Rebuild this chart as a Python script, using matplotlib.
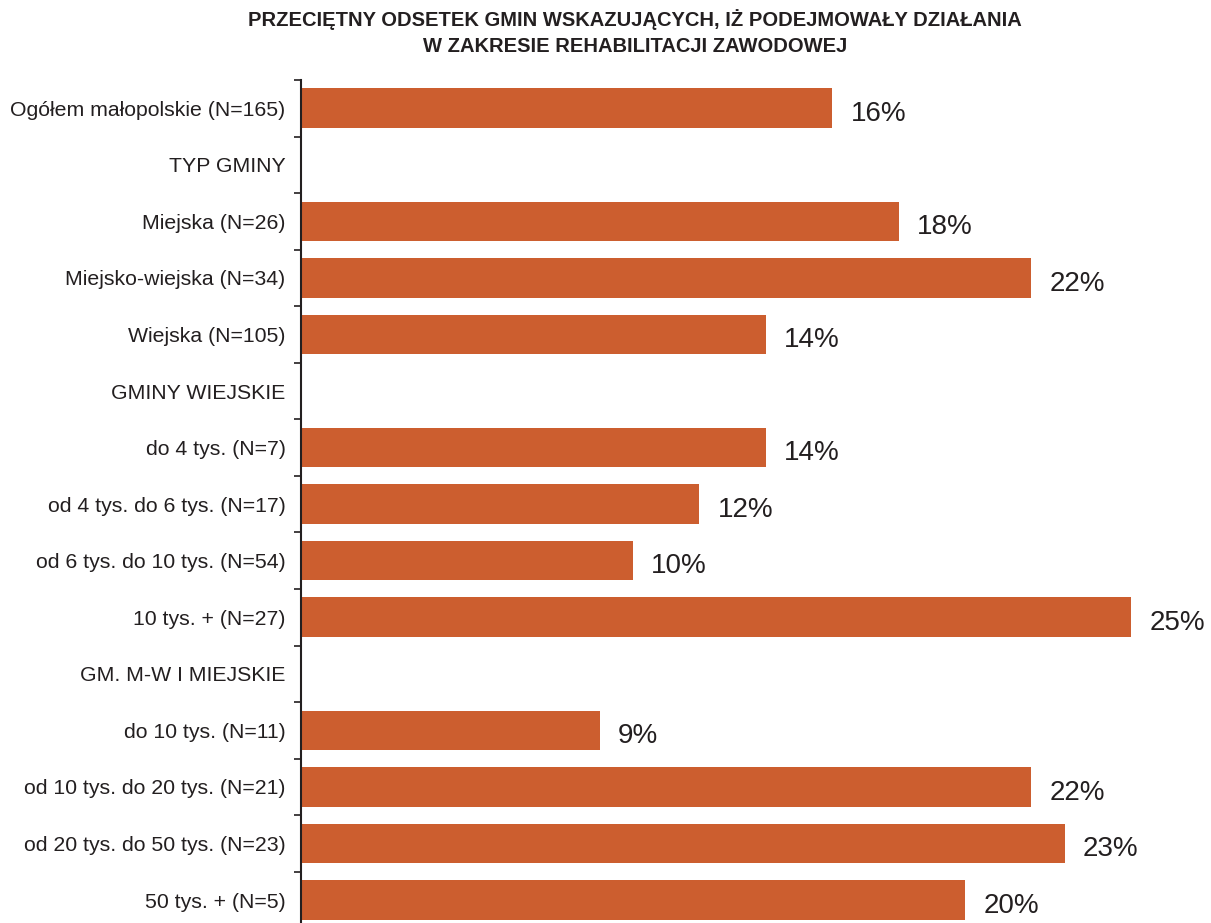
import matplotlib.pyplot as plt
import numpy as np

plt.rcParams['font.family'] = ['Liberation Sans', 'DejaVu Sans']

categories = ["Ogółem małopolskie (N=165)", "TYP GMINY", "Miejska (N=26)",
              "Miejsko-wiejska (N=34)", "Wiejska (N=105)", "GMINY WIEJSKIE",
              "do 4 tys. (N=7)", "od 4 tys. do 6 tys. (N=17)",
              "od 6 tys. do 10 tys. (N=54)", "10 tys. + (N=27)",
              "GM. M-W I MIEJSKIE", "do 10 tys. (N=11)",
              "od 10 tys. do 20 tys. (N=21)", "od 20 tys. do 50 tys. (N=23)",
              "50 tys. + (N=5)"]
# None = naglowek grupy, bez slupka
values = [16, None, 18, 22, 14, None, 14, 12, 10, 25, None, 9, 22, 23, 20]

bar_color = '#cc5e2f'
text_color = '#231f20'

fig = plt.figure(figsize=(12.11, 9.23), dpi=100)
ax = fig.add_axes([301 / 1211, 1 - 928.3 / 923, 910 / 1211, 848.3 / 923])

y = np.arange(len(categories))
for i, v in enumerate(values):
    if v is None:
        continue
    ax.barh(y[i], v, height=0.7, color=bar_color)
    ax.text(v + 0.55, y[i] + 0.1, f"{v}%", va='center', ha='left',
            fontsize=20, color=text_color)

ax.set_ylim(len(categories) - 0.5, -0.5)
ax.set_xlim(0, 910 / 33.2)

ax.set_yticks(y)
ax.set_yticklabels(categories, fontsize=15.3, color=text_color)
ax.tick_params(axis='y', which='major', length=0, pad=11)
ax.set_yticks(np.arange(-0.5, len(categories) + 0.5, 1), minor=True)
ax.tick_params(axis='y', which='minor', length=5, width=1.2, color=text_color)
ax.set_xticks([])

for s in ['top', 'right', 'bottom']:
    ax.spines[s].set_visible(False)
ax.spines['left'].set_color(text_color)
ax.spines['left'].set_linewidth(1.5)

fig.text(635 / 1211, 1 - 20 / 923,
         "PRZECIĘTNY ODSETEK GMIN WSKAZUJĄCYCH, IŻ PODEJMOWAŁY DZIAŁANIA",
         ha='center', va='center', fontsize=14.5, fontweight='bold', color=text_color)
fig.text(635 / 1211, 1 - 46 / 923,
         "W ZAKRESIE REHABILITACJI ZAWODOWEJ",
         ha='center', va='center', fontsize=14.5, fontweight='bold', color=text_color)

fig.savefig('out.png', dpi=100)
